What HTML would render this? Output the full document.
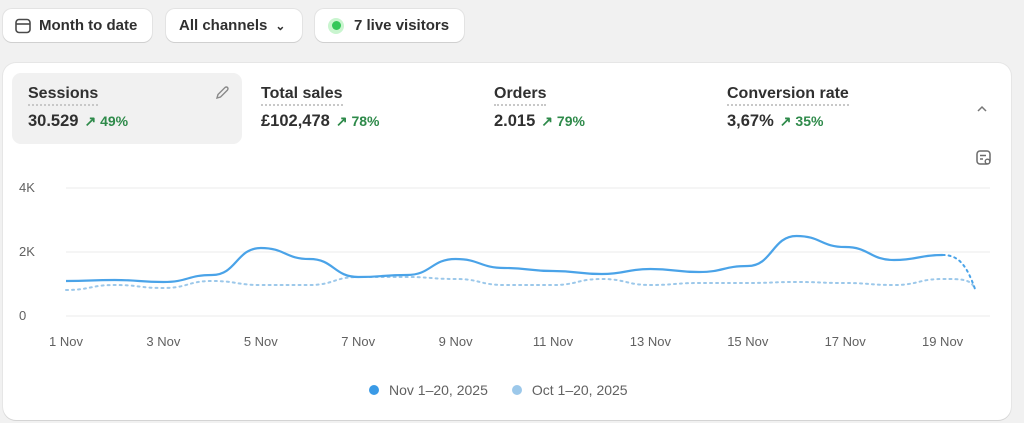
<!DOCTYPE html>
<html><head><meta charset="utf-8"><style>
*{box-sizing:border-box;margin:0;padding:0}
body{width:1024px;height:423px;background:#f1f1f1;font-family:"Liberation Sans",sans-serif;color:#303030;position:relative;overflow:hidden}
.btn{position:absolute;top:9px;height:33px;background:#fff;border-radius:9px;box-shadow:0 1px 0 #d0d0d0,0 0 0 1px #e3e3e3;font-size:15px;font-weight:bold;display:flex;align-items:center;color:#303030}
.card{position:absolute;left:3px;top:63px;width:1008px;height:357px;background:#fff;border-radius:13px;box-shadow:0 1px 0 #d4d4d4,0 0 0 1px #e6e6e6}
.m{position:absolute;top:73px;height:71px;border-radius:9px;padding:12px 0 0 16px}
.t{font-size:16px;font-weight:bold;display:inline-block;border-bottom:2px dotted #c8c8c8;padding-bottom:1px}
.v{font-size:16.5px;font-weight:bold;margin-top:6px}
.g{color:#2e8a4a;font-size:14px;margin-left:6px}
.ax{position:absolute;font-size:13px;color:#616161}
</style></head><body>
<div class="btn" style="left:3px;width:149px;padding-left:11px"><svg width="18" height="18" viewBox="0 0 18 18" style="margin-right:7px"><rect x="2" y="2.5" width="14" height="13" rx="3" fill="none" stroke="#4a4a4a" stroke-width="1.6"/><line x1="2" y1="7" x2="16" y2="7" stroke="#4a4a4a" stroke-width="1.6"/></svg>Month to date</div>
<div class="btn" style="left:166px;width:136px;padding-left:13px">All channels <span style="margin-left:8px;font-size:12px">&#8964;</span></div>
<div class="btn" style="left:315px;width:149px;padding-left:13px"><span style="width:16px;height:16px;border-radius:50%;background:#c9f5cf;display:inline-flex;align-items:center;justify-content:center;margin-right:10px"><span style="width:9px;height:9px;border-radius:50%;background:#34c759"></span></span>7 live visitors</div>
<div class="card"></div>
<div class="m" style="left:12px;width:230px;background:#f1f1f1"><span class="t">Sessions</span><div class="v">30.529<span class="g">&#8599; 49%</span></div>
<svg style="position:absolute;right:12px;top:12px" width="16" height="16" viewBox="0 0 16 16"><path d="M3 13 L4 9.5 L11 2.5 Q12.5 1.5 13.5 2.5 Q14.5 3.5 13.5 5 L6.5 12 Z" fill="none" stroke="#8a8a8a" stroke-width="1.4"/></svg></div>
<div class="m" style="left:245px;width:230px"><span class="t">Total sales</span><div class="v">£102,478<span class="g">&#8599; 78%</span></div></div>
<div class="m" style="left:478px;width:230px"><span class="t">Orders</span><div class="v">2.015<span class="g">&#8599; 79%</span></div></div>
<div class="m" style="left:711px;width:230px"><span class="t">Conversion rate</span><div class="v">3,67%<span class="g">&#8599; 35%</span></div></div>
<svg style="position:absolute;left:975px;top:102px" width="14" height="14" viewBox="0 0 14 14"><path d="M3 9 L7 5 L11 9" fill="none" stroke="#777" stroke-width="1.5"/></svg>
<svg style="position:absolute;left:975px;top:149px" width="18" height="18" viewBox="0 0 18 18"><rect x="2" y="2" width="13" height="13" rx="3" fill="none" stroke="#6a6a6a" stroke-width="1.5"/><line x1="5" y1="6.5" x2="11" y2="6.5" stroke="#6a6a6a" stroke-width="1.5"/><line x1="5" y1="10" x2="8" y2="10" stroke="#6a6a6a" stroke-width="1.5"/><circle cx="12.5" cy="12.5" r="2.3" fill="#fff" stroke="#6a6a6a" stroke-width="1.4"/></svg>
<div class="ax" style="left:19px;top:180px">4K</div>
<div class="ax" style="left:19px;top:244px">2K</div>
<div class="ax" style="left:19px;top:308px">0</div>
<svg style="position:absolute;left:0;top:0" width="1024" height="423">
<line x1="66" y1="188" x2="990" y2="188" stroke="#ebebeb"/>
<line x1="66" y1="252" x2="990" y2="252" stroke="#ebebeb"/>
<line x1="66" y1="316" x2="990" y2="316" stroke="#ebebeb"/>
<path id="p2" fill="none" stroke="#9cc8ea" stroke-width="2" stroke-dasharray="2 4" stroke-linecap="round"/>
<path id="p1" fill="none" stroke="#4aa3e8" stroke-width="2.2"/>
<path id="p3" fill="none" stroke="#4aa3e8" stroke-width="2" stroke-dasharray="2 4" stroke-linecap="round"/>
</svg>
<div id="xl"></div>
<div style="position:absolute;top:382px;left:369px;font-size:14px;color:#616161;display:flex;align-items:center"><span style="width:10px;height:10px;border-radius:50%;background:#3a9ae6;margin-right:10px"></span>Nov 1–20, 2025<span style="width:10px;height:10px;border-radius:50%;background:#9cc8ea;margin:0 10px 0 24px"></span>Oct 1–20, 2025</div>
<script>
var x0=66,st=48.7;
var a=[281,280,282,275,248,259,277,275,259,268,271,274,269,272,266,236,247,260,255];
var b=[290,285,288,281,285,285,277,277,279,285,285,279,285,283,283,282,283,285,279];
function P(arr){var d="M"+x0+" "+arr[0];for(var i=1;i<arr.length;i++){var xa=x0+(i-1)*st,xb=xa+st;d+=" C"+(xa+st/2)+" "+arr[i-1]+" "+(xb-st/2)+" "+arr[i]+" "+xb+" "+arr[i];}return d;}
var xe=x0+18*st;
document.getElementById("p1").setAttribute("d",P(a));
document.getElementById("p2").setAttribute("d",P(b)+" C"+(xe+20)+" 279 "+(xe+28)+" 279 975 289");
document.getElementById("p3").setAttribute("d","M"+xe+" 255 C"+(xe+16)+" 255 "+(xe+24)+" 265 975 289");
var h="";for(var i=0;i<10;i++){var d=1+2*i;h+='<div class="ax" style="left:'+(x0+2*i*st-30)+'px;width:60px;text-align:center;top:334px">'+d+' Nov</div>';}
document.getElementById("xl").innerHTML=h;
</script>
</body></html>
